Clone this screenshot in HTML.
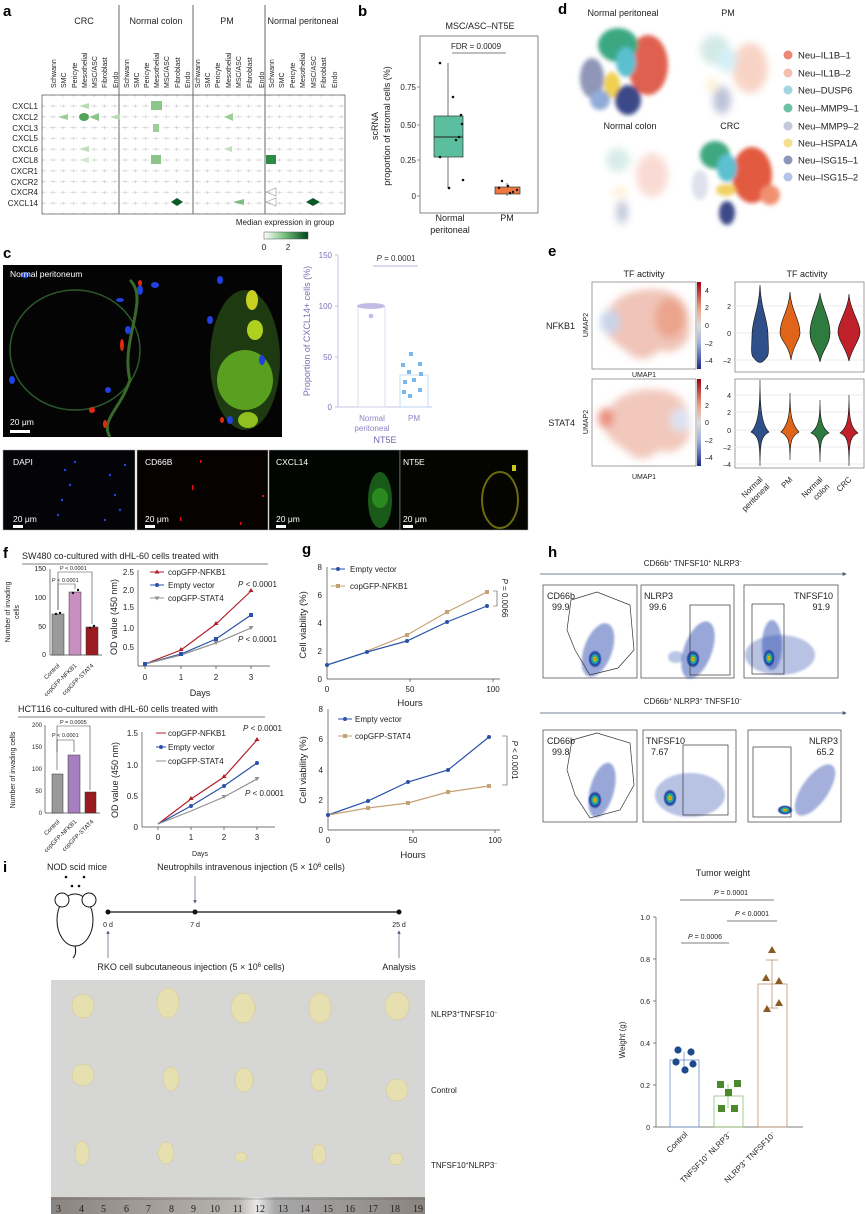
<!DOCTYPE html>
<html><head><meta charset="utf-8"><style>
html,body{margin:0;padding:0;background:#fff}
svg{display:block;font-family:"Liberation Sans",sans-serif}
.lb{font-weight:bold;font-size:15px}
.t{font-size:8px;fill:#222}
.s{font-size:7px;fill:#222}
.m{font-size:9px;fill:#222}
.w{font-size:8.5px;fill:#fff}
</style></head><body>
<svg width="865" height="1214" viewBox="0 0 865 1214" xmlns="http://www.w3.org/2000/svg">
<defs>
<pattern id="vp" x="48" y="101" width="10.3" height="10.8" patternUnits="userSpaceOnUse"><line x1="1.5" y1="5" x2="8.5" y2="5" stroke="#d0d0d0" stroke-width="0.6"/><line x1="5" y1="3.5" x2="5" y2="6.5" stroke="#bbb" stroke-width="0.6"/></pattern>
<filter id="bl"><feGaussianBlur stdDeviation="4"/></filter>
<filter id="bl2"><feGaussianBlur stdDeviation="2"/></filter>
<filter id="bl1"><feGaussianBlur stdDeviation="1"/></filter>
<linearGradient id="gcb" x1="0" x2="1"><stop offset="0" stop-color="#fff"/><stop offset="0.5" stop-color="#6dbb74"/><stop offset="1" stop-color="#00441b"/></linearGradient>
<linearGradient id="rcb" x1="0" y1="1" x2="0" y2="0"><stop offset="0" stop-color="#1a2a8a"/><stop offset="0.3" stop-color="#9fb3dc"/><stop offset="0.5" stop-color="#ddd"/><stop offset="0.7" stop-color="#eea080"/><stop offset="1" stop-color="#a00010"/></linearGradient>
<linearGradient id="rul" x1="0" x2="1"><stop offset="0" stop-color="#8a8480"/><stop offset="0.5" stop-color="#b8b4b0"/><stop offset="0.55" stop-color="#e8e8e8"/><stop offset="0.6" stop-color="#a8a8a8"/><stop offset="1" stop-color="#8a8480"/></linearGradient>
<radialGradient id="flow"><stop offset="0" stop-color="#e00"/><stop offset="0.15" stop-color="#f5d000"/><stop offset="0.3" stop-color="#3cb44a"/><stop offset="0.45" stop-color="#2a9fc0"/><stop offset="0.7" stop-color="#1a3a9a"/><stop offset="1" stop-color="#1a3a9a" stop-opacity="0"/></radialGradient>
<marker id="ar" viewBox="0 0 6 6" refX="5" refY="3" markerWidth="5" markerHeight="5" orient="auto"><path d="M0,0L6,3L0,6z" fill="#4a5a7a"/></marker>
</defs>

<!-- ============ a ============ -->
<text class="lb" x="3" y="16">a</text>
<g class="m" text-anchor="middle"><text x="84" y="24">CRC</text><text x="156" y="24">Normal colon</text><text x="227" y="24">PM</text><text x="303" y="24">Normal peritoneal</text></g>
<g stroke="#444" stroke-width="0.8"><line x1="119" y1="5" x2="119" y2="214"/><line x1="193" y1="5" x2="193" y2="214"/><line x1="265" y1="5" x2="265" y2="214"/></g>
<rect x="42" y="95" width="303" height="119" fill="url(#vp)" stroke="#666" stroke-width="0.8"/>
<g class="s">
<text transform="translate(56,88) rotate(-90)">Schwann</text><text transform="translate(66,88) rotate(-90)">SMC</text><text transform="translate(77,88) rotate(-90)">Pericyte</text><text transform="translate(87,88) rotate(-90)">Mesothelial</text><text transform="translate(97,88) rotate(-90)">MSC/ASC</text><text transform="translate(107,88) rotate(-90)">Fibroblast</text><text transform="translate(118,88) rotate(-90)">Endo</text>
<text transform="translate(129,88) rotate(-90)">Schwann</text><text transform="translate(139,88) rotate(-90)">SMC</text><text transform="translate(149,88) rotate(-90)">Pericyte</text><text transform="translate(159,88) rotate(-90)">Mesothelial</text><text transform="translate(169,88) rotate(-90)">MSC/ASC</text><text transform="translate(180,88) rotate(-90)">Fibroblast</text><text transform="translate(190,88) rotate(-90)">Endo</text>
<text transform="translate(200,88) rotate(-90)">Schwann</text><text transform="translate(210,88) rotate(-90)">SMC</text><text transform="translate(220,88) rotate(-90)">Pericyte</text><text transform="translate(231,88) rotate(-90)">Mesothelial</text><text transform="translate(241,88) rotate(-90)">MSC/ASC</text><text transform="translate(252,88) rotate(-90)">Fibroblast</text><text transform="translate(264,88) rotate(-90)">Endo</text>
<text transform="translate(274,88) rotate(-90)">Schwann</text><text transform="translate(284,88) rotate(-90)">SMC</text><text transform="translate(295,88) rotate(-90)">Pericyte</text><text transform="translate(305,88) rotate(-90)">Mesothelial</text><text transform="translate(316,88) rotate(-90)">MSC/ASC</text><text transform="translate(326,88) rotate(-90)">Fibroblast</text><text transform="translate(337,88) rotate(-90)">Endo</text>
</g>
<g class="t" text-anchor="end"><text x="38" y="109">CXCL1</text><text x="38" y="120">CXCL2</text><text x="38" y="131">CXCL3</text><text x="38" y="141">CXCL5</text><text x="38" y="152">CXCL6</text><text x="38" y="163">CXCL8</text><text x="38" y="174">CXCR1</text><text x="38" y="185">CXCR2</text><text x="38" y="195">CXCR4</text><text x="38" y="206">CXCL14</text></g>
<g>
<path d="M79,106 L89,103 L89,109z" fill="#b9dcb5"/>
<path d="M58,117 L68,114 L68,120z" fill="#9ccf98"/>
<ellipse cx="84" cy="117" rx="5" ry="4" fill="#55a35a"/>
<path d="M89,117 L99,113 L99,121z" fill="#8cc58a"/>
<path d="M110,117 L120,114 L120,120z" fill="#b7dab3"/>
<path d="M79,149 L89,146 L89,152z" fill="#c0e0bb"/>
<path d="M79,160 L89,157 L89,163z" fill="#d2e9cf"/>
<rect x="151" y="101" width="11" height="9" fill="#8cc58a"/>
<rect x="153" y="124" width="6" height="8" fill="#9ccf98"/>
<rect x="151" y="155" width="10" height="9" fill="#8cc58a"/>
<path d="M171,202 L177,198 L183,202 L177,206z" fill="#0b5a2a"/>
<path d="M224,117 L233,113 L233,121z" fill="#9ccf98"/>
<path d="M224,149 L232,146 L232,152z" fill="#bfe0ba"/>
<path d="M233,202 L244,199 L244,205z" fill="#7bbd7c"/>
<rect x="266" y="155" width="10" height="9" fill="#2f8a45"/>
<path d="M306,202 L313,198 L320,202 L313,206z" fill="#0b5a2a"/>
<path d="M266,192 L276,188 L276,196z" fill="none" stroke="#999" stroke-width="0.6"/>
<path d="M266,202 L276,198 L276,206z" fill="none" stroke="#999" stroke-width="0.6"/>
</g>
<text class="t" x="285" y="225" text-anchor="middle">Median expression in group</text>
<rect x="264" y="232" width="44" height="7" fill="url(#gcb)" stroke="#555" stroke-width="0.5"/>
<text class="t" x="264" y="250" text-anchor="middle">0</text><text class="t" x="288" y="250" text-anchor="middle">2</text>

<!-- ============ b ============ -->
<text class="lb" x="358" y="16">b</text>
<text class="m" x="480" y="29" text-anchor="middle">MSC/ASC–NT5E</text>
<rect x="420" y="36" width="118" height="177" fill="none" stroke="#666" stroke-width="0.8"/>
<g class="t" text-anchor="end"><text x="416" y="90">0.75</text><text x="416" y="128">0.50</text><text x="416" y="163">0.25</text><text x="416" y="199">0</text></g>
<g stroke="#666" stroke-width="0.7"><line x1="417" y1="87" x2="420" y2="87"/><line x1="417" y1="125" x2="420" y2="125"/><line x1="417" y1="160" x2="420" y2="160"/><line x1="417" y1="196" x2="420" y2="196"/></g>
<text class="m" transform="translate(378,126) rotate(-90)" text-anchor="middle">scRNA</text>
<text class="m" transform="translate(390,126) rotate(-90)" text-anchor="middle">proportion of stromal cells (%)</text>
<text class="t" x="476" y="49" text-anchor="middle">FDR = 0.0009</text>
<line x1="452" y1="53" x2="506" y2="53" stroke="#555" stroke-width="0.7"/>
<line x1="448" y1="63" x2="448" y2="188" stroke="#333" stroke-width="0.7"/>
<rect x="434" y="116" width="29" height="41" fill="#5bbf9f" stroke="#333" stroke-width="0.7"/>
<line x1="434" y1="137" x2="463" y2="137" stroke="#222" stroke-width="1"/>
<line x1="507" y1="183" x2="507" y2="196" stroke="#333" stroke-width="0.7"/>
<rect x="495" y="187" width="25" height="7" fill="#f07840" stroke="#333" stroke-width="0.7"/>
<g fill="#111"><circle cx="440" cy="63" r="1.3"/><circle cx="453" cy="97" r="1.3"/><circle cx="461" cy="115" r="1.3"/><circle cx="462" cy="124" r="1.3"/><circle cx="459" cy="137" r="1.3"/><circle cx="456" cy="140" r="1.3"/><circle cx="440" cy="157" r="1.3"/><circle cx="449" cy="188" r="1.3"/><circle cx="463" cy="180" r="1.3"/><circle cx="502" cy="181" r="1.2"/><circle cx="508" cy="186" r="1.2"/><circle cx="513" cy="192" r="1.2"/><circle cx="499" cy="188" r="1.2"/><circle cx="517" cy="190" r="1.2"/><circle cx="510" cy="193" r="1.2"/></g>
<text class="m" x="450" y="221" text-anchor="middle">Normal</text><text class="m" x="450" y="233" text-anchor="middle">peritoneal</text><text class="m" x="507" y="221" text-anchor="middle">PM</text>

<!-- ============ d ============ -->
<text class="lb" x="558" y="14">d</text>
<g class="m" text-anchor="middle"><text x="623" y="16">Normal peritoneal</text><text x="728" y="16">PM</text><text x="630" y="129">Normal colon</text><text x="730" y="129">CRC</text></g>
<g filter="url(#bl2)">
<ellipse cx="648" cy="65" rx="20" ry="30" fill="#e06050"/>
<ellipse cx="618" cy="45" rx="20" ry="17" fill="#3aa882"/>
<ellipse cx="626" cy="62" rx="10" ry="15" fill="#5ac0d0"/>
<ellipse cx="592" cy="78" rx="12" ry="20" fill="#8f96b8"/>
<ellipse cx="612" cy="85" rx="8" ry="13" fill="#f0d050"/>
<ellipse cx="628" cy="100" rx="13" ry="15" fill="#3a4a88"/>
<ellipse cx="600" cy="100" rx="10" ry="10" fill="#90acd8"/>
</g>
<g filter="url(#bl)" opacity="0.45">
<ellipse cx="750" cy="68" rx="18" ry="25" fill="#f0a080"/>
<ellipse cx="715" cy="50" rx="15" ry="15" fill="#a0d0c8"/>
<ellipse cx="727" cy="60" rx="10" ry="12" fill="#a0dce8"/>
<ellipse cx="722" cy="100" rx="9" ry="14" fill="#7078a8"/>
<ellipse cx="712" cy="85" rx="6" ry="6" fill="#f8e090"/>
<ellipse cx="652" cy="175" rx="16" ry="22" fill="#f4b0a0"/>
<ellipse cx="618" cy="160" rx="12" ry="12" fill="#a8d8cc"/>
<ellipse cx="622" cy="212" rx="6" ry="12" fill="#8088b0"/>
<ellipse cx="620" cy="192" rx="8" ry="5" fill="#f8e0a0"/>
</g>
<g filter="url(#bl2)">
<ellipse cx="752" cy="175" rx="20" ry="28" fill="#e25a40"/>
<ellipse cx="715" cy="155" rx="15" ry="14" fill="#40a880"/>
<ellipse cx="727" cy="168" rx="10" ry="14" fill="#5cc0d0"/>
<ellipse cx="770" cy="195" rx="10" ry="10" fill="#f09070"/>
<ellipse cx="726" cy="190" rx="10" ry="6" fill="#f0d060"/>
<ellipse cx="727" cy="213" rx="8" ry="12" fill="#3c4a88"/>
<ellipse cx="700" cy="185" rx="8" ry="15" fill="#c8cce0" opacity="0.6"/>
</g>
<g font-size="9.5" fill="#222">
<circle cx="788" cy="55" r="4.5" fill="#e98873"/><text x="798" y="58.5">Neu–IL1B–1</text>
<circle cx="788" cy="73" r="4.5" fill="#f5bfae"/><text x="798" y="76.5">Neu–IL1B–2</text>
<circle cx="788" cy="90" r="4.5" fill="#9fd6e2"/><text x="798" y="93.5">Neu–DUSP6</text>
<circle cx="788" cy="108" r="4.5" fill="#6cc1a4"/><text x="798" y="111.5">Neu–MMP9–1</text>
<circle cx="788" cy="126" r="4.5" fill="#c5c8da"/><text x="798" y="129.5">Neu–MMP9–2</text>
<circle cx="788" cy="143" r="4.5" fill="#f4df8e"/><text x="798" y="146.5">Neu–HSPA1A</text>
<circle cx="788" cy="160" r="4.5" fill="#8d96b8"/><text x="798" y="163.5">Neu–ISG15–1</text>
<circle cx="788" cy="177" r="4.5" fill="#b3c6e5"/><text x="798" y="180.5">Neu–ISG15–2</text>
</g>

<!-- ============ c ============ -->
<text class="lb" x="3" y="258">c</text>
<rect x="3" y="265" width="279" height="172" fill="#040404"/>
<g>
<ellipse cx="75" cy="350" rx="65" ry="60" fill="none" stroke="#2a5a2a" stroke-width="1.5"/>
<path d="M130,280 C150,300 120,340 130,380 C120,410 100,420 110,437" fill="none" stroke="#3a6a2a" stroke-width="3"/>
<ellipse cx="245" cy="360" rx="35" ry="70" fill="#1e3a10"/>
<ellipse cx="245" cy="380" rx="28" ry="30" fill="#5aa020"/>
<ellipse cx="252" cy="300" rx="6" ry="10" fill="#c8d020"/>
<ellipse cx="255" cy="330" rx="8" ry="10" fill="#b0d020"/>
<ellipse cx="248" cy="420" rx="10" ry="8" fill="#90c020"/>
</g>
<g fill="#2040e0"><ellipse cx="120" cy="300" rx="4" ry="2"/><ellipse cx="140" cy="290" rx="3" ry="5"/><ellipse cx="128" cy="330" rx="3" ry="4"/><ellipse cx="210" cy="320" rx="3" ry="4"/><ellipse cx="220" cy="280" rx="3" ry="4"/><ellipse cx="12" cy="380" rx="3" ry="4"/><ellipse cx="230" cy="420" rx="3" ry="4"/><ellipse cx="25" cy="275" rx="4" ry="3"/><ellipse cx="155" cy="285" rx="4" ry="3"/><ellipse cx="262" cy="360" rx="3" ry="5"/><ellipse cx="108" cy="390" rx="3" ry="3"/></g>
<g fill="#e02a10"><ellipse cx="122" cy="345" rx="2" ry="6"/><ellipse cx="140" cy="283" rx="2" ry="3"/><ellipse cx="105" cy="424" rx="2" ry="4"/><ellipse cx="92" cy="410" rx="3" ry="3"/><ellipse cx="222" cy="420" rx="2" ry="3"/></g>
<text class="w" x="10" y="277">Normal peritoneum</text>
<text class="w" x="10" y="425">20 μm</text><rect x="10" y="430" width="20" height="3" fill="#fff"/>
<!-- bar chart c -->
<g stroke="#b8b3de" stroke-width="0.8" fill="none"><line x1="338" y1="255" x2="338" y2="407"/><line x1="338" y1="407" x2="432" y2="407"/>
<line x1="335" y1="255" x2="338" y2="255"/><line x1="335" y1="306" x2="338" y2="306"/><line x1="335" y1="357" x2="338" y2="357"/><line x1="335" y1="407" x2="338" y2="407"/>
<rect x="358" y="307" width="27" height="100" stroke="#d8d4ee"/><rect x="400" y="375" width="28" height="32" stroke="#b8d8f2"/></g>
<g font-size="8" fill="#7b70b8" text-anchor="end"><text x="332" y="258">150</text><text x="332" y="309">100</text><text x="332" y="360">50</text><text x="332" y="410">0</text></g>
<text transform="translate(310,331) rotate(-90)" text-anchor="middle" font-size="9" fill="#7b70b8">Proportion of CXCL14+ cells (%)</text>
<g fill="#c0bce6"><ellipse cx="371" cy="306" rx="14" ry="3"/><circle cx="371" cy="316" r="2.3"/></g>
<g fill="#7ab8ec"><rect x="409" y="352" width="4" height="4"/><rect x="401" y="363" width="4" height="4"/><rect x="418" y="362" width="4" height="4"/><rect x="407" y="370" width="4" height="4"/><rect x="419" y="372" width="4" height="4"/><rect x="403" y="380" width="4" height="4"/><rect x="412" y="378" width="4" height="4"/><rect x="402" y="390" width="4" height="4"/><rect x="418" y="388" width="4" height="4"/><rect x="408" y="394" width="4" height="4"/></g>
<line x1="373" y1="266" x2="418" y2="266" stroke="#b8b3de"/>
<text x="396" y="261" font-size="8" fill="#333" text-anchor="middle"><tspan font-style="italic">P</tspan> = 0.0001</text>
<g font-size="8" fill="#8a84c4" text-anchor="middle"><text x="372" y="421">Normal</text><text x="372" y="431">peritoneal</text><text x="414" y="421">PM</text></g>
<text x="385" y="443" font-size="9" fill="#6e63b0" text-anchor="middle">NT5E</text>
<!-- small images -->
<rect x="3" y="450" width="132" height="80" fill="#030308" stroke="#aaa" stroke-width="0.5"/>
<rect x="137" y="450" width="131" height="80" fill="#060202" stroke="#aaa" stroke-width="0.5"/>
<rect x="269" y="450" width="131" height="80" fill="#020602" stroke="#aaa" stroke-width="0.5"/>
<rect x="400" y="450" width="128" height="80" fill="#050500" stroke="#aaa" stroke-width="0.5"/>
<g fill="#2244ee"><circle cx="65" cy="470" r="1.2"/><circle cx="70" cy="485" r="1.2"/><circle cx="62" cy="500" r="1.2"/><circle cx="110" cy="475" r="1.2"/><circle cx="115" cy="495" r="1.2"/><circle cx="120" cy="510" r="1.2"/><circle cx="105" cy="520" r="1.2"/><circle cx="75" cy="462" r="1.2"/><circle cx="125" cy="465" r="1.2"/><circle cx="58" cy="515" r="1.2"/></g>
<g fill="#e01010"><rect x="192" y="485" width="1.5" height="5"/><rect x="200" y="460" width="1.5" height="3"/><rect x="180" y="517" width="1.5" height="4"/><rect x="240" y="522" width="1.5" height="3"/><rect x="262" y="495" width="2" height="2"/></g>
<ellipse cx="380" cy="500" rx="12" ry="28" fill="#1a5a18"/><ellipse cx="380" cy="498" rx="8" ry="10" fill="#2a8a20"/>
<ellipse cx="500" cy="500" rx="18" ry="28" fill="none" stroke="#6a6a10" stroke-width="2"/><rect x="512" y="465" width="4" height="6" fill="#c8c820"/>
<g class="w"><text x="13" y="465">DAPI</text><text x="145" y="465">CD66B</text><text x="276" y="465">CXCL14</text><text x="403" y="465">NT5E</text>
<text x="13" y="522">20 μm</text><text x="145" y="522">20 μm</text><text x="276" y="522">20 μm</text><text x="403" y="522">20 μm</text></g>
<g fill="#fff"><rect x="13" y="525" width="10" height="3"/><rect x="145" y="525" width="10" height="3"/><rect x="276" y="525" width="10" height="3"/><rect x="403" y="525" width="10" height="3"/></g>

<!-- ============ e ============ -->
<text class="lb" x="548" y="256">e</text>
<text class="m" x="644" y="277" text-anchor="middle">TF activity</text>
<text class="m" x="807" y="277" text-anchor="middle">TF activity</text>
<rect x="592" y="282" width="104" height="87" fill="#fff" stroke="#888" stroke-width="0.8"/>
<rect x="592" y="379" width="104" height="87" fill="#fff" stroke="#888" stroke-width="0.8"/>
<g filter="url(#bl)">
<path d="M605,320 C610,290 650,285 670,292 C690,300 692,320 688,340 C680,350 670,355 660,350 C650,358 640,365 625,350 C610,340 600,330 605,320z" fill="#f0c4b8"/>
<ellipse cx="610" cy="322" rx="10" ry="12" fill="#c8d4ea"/><ellipse cx="670" cy="318" rx="15" ry="20" fill="#eca48c"/>
<path d="M605,420 C610,390 650,385 670,392 C690,400 692,420 688,440 C680,450 670,455 660,450 C650,458 640,465 625,450 C610,440 600,430 605,420z" fill="#f2c8bc"/>
<ellipse cx="606" cy="418" rx="8" ry="10" fill="#ec9080"/><ellipse cx="680" cy="420" rx="10" ry="12" fill="#dde2f0"/>
</g>
<rect x="697" y="282" width="4" height="87" fill="url(#rcb)"/><rect x="697" y="379" width="4" height="87" fill="url(#rcb)"/>
<g class="s"><text x="705" y="293">4</text><text x="705" y="310">2</text><text x="705" y="328">0</text><text x="705" y="346">–2</text><text x="705" y="363">–4</text>
<text x="705" y="390">4</text><text x="705" y="408">2</text><text x="705" y="425">0</text><text x="705" y="443">–2</text><text x="705" y="460">–4</text></g>
<g class="s" text-anchor="middle"><text x="644" y="377">UMAP1</text><text x="644" y="479">UMAP1</text><text transform="translate(588,325) rotate(-90)">UMAP2</text><text transform="translate(588,422) rotate(-90)">UMAP2</text></g>
<text class="m" x="575" y="329" text-anchor="end">NFKB1</text><text class="m" x="575" y="426" text-anchor="end">STAT4</text>
<rect x="735" y="282" width="129" height="90" fill="#fff" stroke="#888" stroke-width="0.8"/>
<rect x="735" y="379" width="129" height="89" fill="#fff" stroke="#888" stroke-width="0.8"/>
<g stroke="#e4e4e4" stroke-width="0.8"><line x1="735" y1="306" x2="864" y2="306"/><line x1="735" y1="333" x2="864" y2="333"/><line x1="735" y1="360" x2="864" y2="360"/><line x1="735" y1="395" x2="864" y2="395"/><line x1="735" y1="412" x2="864" y2="412"/><line x1="735" y1="430" x2="864" y2="430"/><line x1="735" y1="447" x2="864" y2="447"/><line x1="735" y1="464" x2="864" y2="464"/></g>
<g class="s" text-anchor="end"><text x="731" y="309">2</text><text x="731" y="336">0</text><text x="731" y="363">–2</text><text x="731" y="398">4</text><text x="731" y="415">2</text><text x="731" y="433">0</text><text x="731" y="450">–2</text><text x="731" y="467">–4</text></g>
<g stroke="#111" stroke-width="0.6">
<path d="M760,285 C761,310 768,320 768,335 C768,345 770,355 766,358 C762,364 758,364 754,358 C750,355 752,345 752,335 C752,320 759,310 760,285z" fill="#2f4f8a"/>
<path d="M790,292 C791,310 800,320 800,333 C800,340 793,345 791,360 C789,345 780,340 780,333 C780,320 789,310 790,292z" fill="#e0651a"/>
<path d="M820,293 C821,305 830,318 830,333 C830,345 822,350 820,362 C818,350 810,345 810,333 C810,318 819,305 820,293z" fill="#2f7a3e"/>
<path d="M849,294 C850,310 860,322 860,332 C860,340 852,348 849,361 C846,348 838,340 838,332 C838,322 848,310 849,294z" fill="#c0202a"/>
<path d="M760,380 C760,410 762,425 769,432 C762,436 760,440 760,466 C760,440 758,436 751,432 C758,425 760,410 760,380z" fill="#2f4f8a"/>
<path d="M790,393 C790,415 792,425 799,432 C792,436 790,440 790,460 C790,440 788,436 781,432 C788,425 790,415 790,393z" fill="#e0651a"/>
<path d="M820,400 C820,420 822,428 829,433 C822,436 820,440 820,462 C820,440 818,436 811,433 C818,428 820,420 820,400z" fill="#2f7a3e"/>
<path d="M849,395 C849,420 851,428 858,433 C851,436 849,440 849,466 C849,440 847,436 840,433 C847,428 849,420 849,395z" fill="#c0202a"/>
</g>
<g class="t" text-anchor="end">
<text transform="translate(763,480) rotate(-45)">Normal</text><text transform="translate(770,487) rotate(-45)">peritoneal</text>
<text transform="translate(793,480) rotate(-45)">PM</text>
<text transform="translate(823,480) rotate(-45)">Normal</text><text transform="translate(830,487) rotate(-45)">colon</text>
<text transform="translate(852,480) rotate(-45)">CRC</text></g>

<!-- ============ f ============ -->
<text class="lb" x="3" y="558">f</text>
<text class="m" x="22" y="559">SW480 co-cultured with dHL-60 cells treated with</text>
<line x1="22" y1="564" x2="268" y2="564" stroke="#555" stroke-width="0.8"/>
<g stroke="#444" stroke-width="0.7"><line x1="50" y1="569" x2="50" y2="655"/><line x1="50" y1="655" x2="102" y2="655"/></g>
<g class="s" text-anchor="end" font-size="6"><text x="46" y="571">150</text><text x="46" y="600">100</text><text x="46" y="629">50</text><text x="46" y="657">0</text></g>
<text transform="translate(10,612) rotate(-90)" text-anchor="middle" font-size="7" fill="#222">Number of invading</text>
<text transform="translate(19,612) rotate(-90)" text-anchor="middle" font-size="7" fill="#222">cells</text>
<rect x="52" y="614" width="12" height="41" fill="#9a9a9a" stroke="#333" stroke-width="0.5"/>
<rect x="69" y="592" width="12" height="63" fill="#c98fc0" stroke="#333" stroke-width="0.5"/>
<rect x="86" y="627" width="12" height="28" fill="#9b1c20" stroke="#333" stroke-width="0.5"/>
<g fill="#111"><circle cx="56" cy="614" r="1.2"/><circle cx="60" cy="613" r="1.2"/><circle cx="73" cy="593" r="1.2"/><circle cx="78" cy="590" r="1.2"/><circle cx="90" cy="628" r="1.2"/><circle cx="94" cy="626" r="1.2"/></g>
<g stroke="#444" stroke-width="0.6" fill="none"><path d="M58,610 V572 H92 V624"/><path d="M58,610 V584 H75 V589"/></g>
<g font-size="5.5" fill="#222"><text x="60" y="570">P &lt; 0.0001</text><text x="52" y="582">P &lt; 0.0001</text></g>
<g font-size="6" fill="#222" text-anchor="end"><text transform="translate(60,666) rotate(-45)">Control</text><text transform="translate(77,666) rotate(-45)">copGFP-NFKB1</text><text transform="translate(94,666) rotate(-45)">copGFP-STAT4</text></g>
<g stroke="#444" stroke-width="0.7"><line x1="138" y1="570" x2="138" y2="666"/><line x1="138" y1="666" x2="270" y2="666"/>
<line x1="145" y1="666" x2="145" y2="669"/><line x1="181" y1="666" x2="181" y2="669"/><line x1="216" y1="666" x2="216" y2="669"/><line x1="251" y1="666" x2="251" y2="669"/></g>
<g class="t" text-anchor="end"><text x="134" y="575">2.5</text><text x="134" y="593">2.0</text><text x="134" y="610">1.5</text><text x="134" y="631">1.0</text><text x="134" y="650">0.5</text></g>
<g class="t" text-anchor="middle"><text x="145" y="680">0</text><text x="181" y="680">1</text><text x="216" y="680">2</text><text x="251" y="680">3</text><text x="200" y="696" font-size="9">Days</text></g>
<text transform="translate(117,617) rotate(-90)" text-anchor="middle" font-size="9" fill="#222">OD value (450 nm)</text>
<polyline points="145,664 181,650 216,624 251,591" fill="none" stroke="#b0202a" stroke-width="1.2"/>
<polyline points="145,664 181,654 216,639 251,615" fill="none" stroke="#2a52a8" stroke-width="1.2"/>
<polyline points="145,664 181,655 216,643 251,628" fill="none" stroke="#909090" stroke-width="1.2"/>
<g fill="#b0202a"><path d="M181,647 l2.5,4 h-5z"/><path d="M216,621 l2.5,4 h-5z"/><path d="M251,588 l2.5,4 h-5z"/></g>
<g fill="#2a52a8"><rect x="179" y="652" width="4" height="4"/><rect x="214" y="637" width="4" height="4"/><rect x="249" y="613" width="4" height="4"/><rect x="143" y="662" width="4" height="4"/></g>
<g fill="#909090"><path d="M216,645 l2.5,-4 h-5z"/><path d="M251,630 l2.5,-4 h-5z"/></g>
<g font-size="8" fill="#222"><line x1="150" y1="572" x2="164" y2="572" stroke="#b0202a"/><path d="M157,569.5 l2.5,4 h-5z" fill="#b0202a"/><text x="168" y="575">copGFP-NFKB1</text>
<line x1="150" y1="585" x2="164" y2="585" stroke="#2a52a8"/><circle cx="157" cy="585" r="2" fill="#2a52a8"/><text x="168" y="588">Empty vector</text>
<line x1="150" y1="598" x2="164" y2="598" stroke="#909090"/><path d="M157,600.5 l2.5,-4 h-5z" fill="#909090"/><text x="168" y="601">copGFP-STAT4</text>
<text x="238" y="587"><tspan font-style="italic">P</tspan> &lt; 0.0001</text><text x="238" y="642"><tspan font-style="italic">P</tspan> &lt; 0.0001</text></g>

<!-- f bottom -->
<text class="m" x="18" y="712">HCT116 co-cultured with dHL-60 cells treated with</text>
<line x1="18" y1="717" x2="265" y2="717" stroke="#555" stroke-width="0.8"/>
<g stroke="#444" stroke-width="0.7"><line x1="45" y1="725" x2="45" y2="813"/><line x1="45" y1="813" x2="100" y2="813"/></g>
<g font-size="6" fill="#222" text-anchor="end"><text x="42" y="727">200</text><text x="42" y="749">150</text><text x="42" y="771">100</text><text x="42" y="793">50</text><text x="42" y="815">0</text></g>
<text transform="translate(15,770) rotate(-90)" text-anchor="middle" font-size="7" fill="#222">Number of invading cells</text>
<rect x="52" y="774" width="11" height="39" fill="#9a9a9a" stroke="#333" stroke-width="0.5"/>
<rect x="68" y="755" width="12" height="58" fill="#a57fc0" stroke="#333" stroke-width="0.5"/>
<rect x="85" y="792" width="11" height="21" fill="#9b1c20" stroke="#333" stroke-width="0.5"/>
<g stroke="#444" stroke-width="0.6" fill="none"><path d="M57,770 V726 H90 V790"/><path d="M57,752 V740 H74 V752"/></g>
<g font-size="5.5" fill="#222"><text x="60" y="724">P = 0.0005</text><text x="52" y="737">P &lt; 0.0001</text></g>
<g font-size="6" fill="#222" text-anchor="end"><text transform="translate(60,822) rotate(-45)">Control</text><text transform="translate(77,822) rotate(-45)">copGFP-NFKB1</text><text transform="translate(94,822) rotate(-45)">copGFP-STAT4</text></g>
<g stroke="#444" stroke-width="0.7"><line x1="142" y1="732" x2="142" y2="827"/><line x1="142" y1="827" x2="275" y2="827"/>
<line x1="158" y1="827" x2="158" y2="830"/><line x1="191" y1="827" x2="191" y2="830"/><line x1="224" y1="827" x2="224" y2="830"/><line x1="257" y1="827" x2="257" y2="830"/></g>
<g class="t" text-anchor="end"><text x="138" y="736">1.5</text><text x="138" y="768">1.0</text><text x="138" y="799">0.5</text><text x="138" y="830">0</text></g>
<g class="t" text-anchor="middle"><text x="158" y="840">0</text><text x="191" y="840">1</text><text x="224" y="840">2</text><text x="257" y="840">3</text><text x="200" y="856" font-size="7">Days</text></g>
<text transform="translate(118,780) rotate(-90)" text-anchor="middle" font-size="9" fill="#222">OD value (450 nm)</text>
<polyline points="158,824 191,799 224,777 257,740" fill="none" stroke="#b0202a" stroke-width="1.2"/>
<polyline points="158,824 191,806 224,786 257,763" fill="none" stroke="#2a52a8" stroke-width="1.2"/>
<polyline points="158,824 191,811 224,797 257,779" fill="none" stroke="#909090" stroke-width="1.2"/>
<g fill="#b0202a"><path d="M191,796 l2.5,4 h-5z"/><path d="M224,774 l2.5,4 h-5z"/><path d="M257,737 l2.5,4 h-5z"/></g>
<g fill="#2a52a8"><circle cx="191" cy="806" r="2"/><circle cx="224" cy="786" r="2"/><circle cx="257" cy="763" r="2"/></g>
<g fill="#909090"><path d="M224,799 l2.5,-4 h-5z"/><path d="M257,781 l2.5,-4 h-5z"/></g>
<g font-size="8" fill="#222"><line x1="156" y1="733" x2="166" y2="733" stroke="#b0202a"/><text x="168" y="736">copGFP-NFKB1</text>
<line x1="156" y1="747" x2="166" y2="747" stroke="#2a52a8"/><circle cx="161" cy="747" r="2" fill="#2a52a8"/><text x="168" y="750">Empty vector</text>
<line x1="156" y1="761" x2="166" y2="761" stroke="#909090"/><text x="168" y="764">copGFP-STAT4</text>
<text x="243" y="731"><tspan font-style="italic">P</tspan> &lt; 0.0001</text><text x="245" y="796"><tspan font-style="italic">P</tspan> &lt; 0.0001</text></g>

<!-- ============ g ============ -->
<text class="lb" x="302" y="554">g</text>
<g stroke="#444" stroke-width="0.7"><line x1="327" y1="567" x2="327" y2="679"/><line x1="327" y1="679" x2="500" y2="679"/><line x1="410" y1="679" x2="410" y2="682"/><line x1="493" y1="679" x2="493" y2="682"/></g>
<g class="t" text-anchor="end"><text x="322" y="570">8</text><text x="322" y="598">6</text><text x="322" y="626">4</text><text x="322" y="654">2</text><text x="322" y="682">0</text></g>
<g class="t" text-anchor="middle"><text x="327" y="692">0</text><text x="410" y="692">50</text><text x="493" y="692">100</text><text x="410" y="706" font-size="9.5">Hours</text></g>
<text transform="translate(306,625) rotate(-90)" text-anchor="middle" font-size="9.5" fill="#222">Cell viability (%)</text>
<polyline points="327,665 367,652 407,641 447,622 487,606" fill="none" stroke="#2a52a8" stroke-width="1.2"/>
<polyline points="367,651 407,635 447,612 487,592" fill="none" stroke="#c4a274" stroke-width="1.2"/>
<g fill="#c4a274"><rect x="405" y="633" width="4" height="4"/><rect x="445" y="610" width="4" height="4"/><rect x="485" y="590" width="4" height="4"/></g>
<g fill="#2a52a8"><circle cx="327" cy="665" r="2"/><circle cx="367" cy="652" r="2"/><circle cx="407" cy="641" r="2"/><circle cx="447" cy="622" r="2"/><circle cx="487" cy="606" r="2"/></g>
<g font-size="8" fill="#222"><line x1="331" y1="569" x2="345" y2="569" stroke="#2a52a8"/><circle cx="338" cy="569" r="2" fill="#2a52a8"/><text x="350" y="572">Empty vector</text>
<line x1="331" y1="586" x2="345" y2="586" stroke="#c4a274"/><rect x="336" y="584" width="4" height="4" fill="#c4a274"/><text x="350" y="589">copGFP-NFKB1</text></g>
<path d="M493,591 H497 V606 H493" fill="none" stroke="#444" stroke-width="0.6"/>
<text transform="translate(502,598) rotate(90)" text-anchor="middle" font-size="8" fill="#222"><tspan font-style="italic">P</tspan> = 0.0066</text>

<g stroke="#444" stroke-width="0.7"><line x1="328" y1="709" x2="328" y2="830"/><line x1="328" y1="830" x2="500" y2="830"/><line x1="413" y1="830" x2="413" y2="833"/><line x1="495" y1="830" x2="495" y2="833"/></g>
<g class="t" text-anchor="end"><text x="323" y="712">8</text><text x="323" y="742">6</text><text x="323" y="773">4</text><text x="323" y="803">2</text><text x="323" y="833">0</text></g>
<g class="t" text-anchor="middle"><text x="328" y="843">0</text><text x="413" y="843">50</text><text x="495" y="843">100</text><text x="413" y="858" font-size="9.5">Hours</text></g>
<text transform="translate(306,770) rotate(-90)" text-anchor="middle" font-size="9.5" fill="#222">Cell viability (%)</text>
<polyline points="328,815 368,801 408,782 448,770 489,737" fill="none" stroke="#2a52a8" stroke-width="1.2"/>
<polyline points="328,815 368,808 408,803 448,792 489,786" fill="none" stroke="#c4a274" stroke-width="1.2"/>
<g fill="#2a52a8"><circle cx="328" cy="815" r="2"/><circle cx="368" cy="801" r="2"/><circle cx="408" cy="782" r="2"/><circle cx="448" cy="770" r="2"/><circle cx="489" cy="737" r="2"/></g>
<g fill="#c4a274"><rect x="366" y="806" width="4" height="4"/><rect x="406" y="801" width="4" height="4"/><rect x="446" y="790" width="4" height="4"/><rect x="487" y="784" width="4" height="4"/></g>
<g font-size="8" fill="#222"><line x1="338" y1="719" x2="352" y2="719" stroke="#2a52a8"/><circle cx="345" cy="719" r="2" fill="#2a52a8"/><text x="355" y="722">Empty vector</text>
<line x1="338" y1="736" x2="352" y2="736" stroke="#c4a274"/><rect x="343" y="734" width="4" height="4" fill="#c4a274"/><text x="355" y="739">copGFP-STAT4</text></g>
<path d="M502,736 H507 V785 H502" fill="none" stroke="#444" stroke-width="0.6"/>
<text transform="translate(512,760) rotate(90)" text-anchor="middle" font-size="8" fill="#222"><tspan font-style="italic">P</tspan> &lt; 0.0001</text>

<!-- ============ h ============ -->
<text class="lb" x="548" y="557">h</text>
<text class="t" x="693" y="566" text-anchor="middle">CD66b<tspan font-size="5" dy="-3">+</tspan><tspan dy="3"> TNFSF10</tspan><tspan font-size="5" dy="-3">+</tspan><tspan dy="3"> NLRP3</tspan><tspan font-size="5" dy="-3">−</tspan></text>
<line x1="540" y1="574" x2="846" y2="574" stroke="#4a5a7a" stroke-width="0.8" marker-end="url(#ar)"/>
<g fill="#fff" stroke="#555" stroke-width="0.8"><rect x="543" y="585" width="94" height="93"/><rect x="641" y="585" width="93" height="93"/><rect x="744" y="585" width="94" height="93"/>
<rect x="543" y="730" width="94" height="92"/><rect x="643" y="730" width="93" height="92"/><rect x="748" y="730" width="93" height="92"/></g>
<g filter="url(#bl1)">
<ellipse cx="598" cy="650" rx="14" ry="28" fill="#3050b0" opacity="0.5" transform="rotate(20 598 650)"/>
<ellipse cx="698" cy="650" rx="14" ry="30" fill="#3050b0" opacity="0.5" transform="rotate(20 698 650)"/>
<ellipse cx="676" cy="657" rx="8" ry="6" fill="#5070c0" opacity="0.4"/>
<ellipse cx="780" cy="655" rx="35" ry="20" fill="#3050b0" opacity="0.35"/>
<ellipse cx="772" cy="645" rx="10" ry="25" fill="#3050b0" opacity="0.5"/>
<ellipse cx="602" cy="790" rx="12" ry="28" fill="#3050b0" opacity="0.5" transform="rotate(15 602 790)"/>
<ellipse cx="690" cy="795" rx="35" ry="22" fill="#3050b0" opacity="0.35"/>
<ellipse cx="815" cy="790" rx="13" ry="30" fill="#3050b0" opacity="0.45" transform="rotate(35 815 790)"/>
</g>
<g><ellipse cx="595" cy="659" rx="7" ry="9" fill="url(#flow)"/><ellipse cx="693" cy="659" rx="7" ry="9" fill="url(#flow)"/><ellipse cx="769" cy="658" rx="6" ry="9" fill="url(#flow)"/>
<ellipse cx="595" cy="800" rx="7" ry="9" fill="url(#flow)"/><ellipse cx="670" cy="798" rx="7" ry="9" fill="url(#flow)"/><ellipse cx="785" cy="810" rx="8" ry="5" fill="url(#flow)"/></g>
<g fill="none" stroke="#333" stroke-width="0.7">
<path d="M571,600 L597,592 L630,605 L634,650 L618,668 L590,675 L575,650 L567,630z"/>
<rect x="690" y="605" width="40" height="70"/><rect x="752" y="604" width="32" height="70"/>
<path d="M572,740 L597,733 L630,743 L634,785 L620,810 L590,818 L575,795 L567,770z"/>
<rect x="683" y="745" width="45" height="70"/><rect x="753" y="747" width="38" height="70"/></g>
<g font-size="9" fill="#222"><text x="547" y="599">CD66b</text><text x="552" y="610">99.9</text><text x="644" y="599">NLRP3</text><text x="649" y="610">99.6</text><text x="833" y="599" text-anchor="end">TNFSF10</text><text x="830" y="610" text-anchor="end">91.9</text>
<text x="547" y="744">CD66b</text><text x="552" y="755">99.8</text><text x="646" y="744">TNFSF10</text><text x="651" y="755">7.67</text><text x="838" y="744" text-anchor="end">NLRP3</text><text x="834" y="755" text-anchor="end">65.2</text></g>
<text class="t" x="693" y="704" text-anchor="middle">CD66b<tspan font-size="5" dy="-3">+</tspan><tspan dy="3"> NLRP3</tspan><tspan font-size="5" dy="-3">+</tspan><tspan dy="3"> TNFSF10</tspan><tspan font-size="5" dy="-3">−</tspan></text>
<line x1="540" y1="713" x2="846" y2="713" stroke="#4a5a7a" stroke-width="0.8" marker-end="url(#ar)"/>

<!-- ============ i ============ -->
<text class="lb" x="3" y="872">i</text>
<text class="m" x="77" y="870" text-anchor="middle">NOD scid mice</text>
<text class="m" x="251" y="870" text-anchor="middle">Neutrophils intravenous injection (5 × 10<tspan font-size="6" dy="-3">6</tspan><tspan dy="3"> cells)</tspan></text>
<g fill="none" stroke="#111" stroke-width="1"><ellipse cx="75" cy="920" rx="18" ry="26"/><circle cx="62" cy="900" r="7" fill="#fff"/><circle cx="89" cy="900" r="7" fill="#fff"/><path d="M75,946 q2,8 -2,12"/></g>
<g fill="#111"><circle cx="72" cy="886" r="1.3"/><circle cx="79" cy="886" r="1.3"/><circle cx="66" cy="877" r="1.3"/><circle cx="84" cy="877" r="1.3"/></g>
<line x1="108" y1="912" x2="399" y2="912" stroke="#111" stroke-width="1.2"/>
<g fill="#111"><circle cx="108" cy="912" r="2.5"/><circle cx="195" cy="912" r="2.5"/><circle cx="399" cy="912" r="2.5"/></g>
<g font-size="7" fill="#222" text-anchor="middle"><text x="108" y="927">0 d</text><text x="195" y="927">7 d</text><text x="399" y="927">25 d</text></g>
<line x1="195" y1="876" x2="195" y2="903" stroke="#4a5a7a" stroke-width="0.7" marker-end="url(#ar)"/>
<line x1="108" y1="958" x2="108" y2="931" stroke="#4a5a7a" stroke-width="0.7" marker-end="url(#ar)"/>
<line x1="399" y1="958" x2="399" y2="931" stroke="#4a5a7a" stroke-width="0.7" marker-end="url(#ar)"/>
<text class="m" x="191" y="970" text-anchor="middle">RKO cell subcutaneous injection (5 × 10<tspan font-size="6" dy="-3">6</tspan><tspan dy="3"> cells)</tspan></text>
<text class="m" x="399" y="970" text-anchor="middle">Analysis</text>
<rect x="51" y="980" width="374" height="217" fill="#d6d6d4"/>
<rect x="51" y="1197" width="374" height="17" fill="url(#rul)"/>
<g stroke="#555" stroke-width="0.4"><line x1="51" y1="1199" x2="425" y2="1199"/></g>
<g font-family="Liberation Serif" font-size="10" fill="#222"><text x="56" y="1212">3</text><text x="79" y="1212">4</text><text x="101" y="1212">5</text><text x="124" y="1212">6</text><text x="146" y="1212">7</text><text x="169" y="1212">8</text><text x="191" y="1212">9</text><text x="210" y="1212">10</text><text x="233" y="1212">11</text><text x="255" y="1212">12</text><text x="278" y="1212">13</text><text x="300" y="1212">14</text><text x="323" y="1212">15</text><text x="345" y="1212">16</text><text x="368" y="1212">17</text><text x="390" y="1212">18</text><text x="413" y="1212">19</text></g>
<g fill="#e6dfb0" stroke="#cfc590" stroke-width="0.5">
<ellipse cx="83" cy="1006" rx="11" ry="12"/><ellipse cx="168" cy="1003" rx="11" ry="15"/><ellipse cx="243" cy="1008" rx="12" ry="15"/><ellipse cx="320" cy="1008" rx="11" ry="15"/><ellipse cx="397" cy="1006" rx="12" ry="14"/>
<ellipse cx="83" cy="1075" rx="11" ry="11"/><ellipse cx="171" cy="1079" rx="8" ry="12"/><ellipse cx="244" cy="1080" rx="9" ry="12"/><ellipse cx="319" cy="1080" rx="8" ry="11"/><ellipse cx="397" cy="1090" rx="11" ry="11"/>
<ellipse cx="82" cy="1153" rx="7" ry="12"/><ellipse cx="166" cy="1153" rx="8" ry="11"/><ellipse cx="241" cy="1157" rx="6" ry="5"/><ellipse cx="319" cy="1154" rx="7" ry="10"/><ellipse cx="396" cy="1159" rx="7" ry="6"/></g>
<g class="t"><text x="431" y="1017">NLRP3<tspan font-size="5" dy="-3">+</tspan><tspan dy="3">TNFSF10</tspan><tspan font-size="5" dy="-3">−</tspan></text><text x="431" y="1093">Control</text><text x="431" y="1168">TNFSF10<tspan font-size="5" dy="-3">+</tspan><tspan dy="3">NLRP3</tspan><tspan font-size="5" dy="-3">−</tspan></text></g>

<!-- tumor weight -->
<text class="m" x="723" y="876" text-anchor="middle">Tumor weight</text>
<g stroke="#555" stroke-width="0.7"><line x1="656" y1="917" x2="656" y2="1127"/><line x1="656" y1="1127" x2="803" y2="1127"/>
<line x1="653" y1="917" x2="656" y2="917"/><line x1="653" y1="959" x2="656" y2="959"/><line x1="653" y1="1001" x2="656" y2="1001"/><line x1="653" y1="1043" x2="656" y2="1043"/><line x1="653" y1="1085" x2="656" y2="1085"/><line x1="653" y1="1127" x2="656" y2="1127"/>
<line x1="680" y1="900" x2="774" y2="900"/><line x1="727" y1="921" x2="777" y2="921"/><line x1="681" y1="943" x2="729" y2="943"/></g>
<g class="s" text-anchor="end"><text x="650" y="920">1.0</text><text x="650" y="962">0.8</text><text x="650" y="1004">0.6</text><text x="650" y="1046">0.4</text><text x="650" y="1088">0.2</text><text x="650" y="1130">0</text></g>
<text transform="translate(625,1040) rotate(-90)" text-anchor="middle" font-size="8" fill="#222">Weight (g)</text>
<g font-size="7" fill="#222" text-anchor="middle"><text x="731" y="895"><tspan font-style="italic">P</tspan> = 0.0001</text><text x="752" y="916"><tspan font-style="italic">P</tspan> &lt; 0.0001</text><text x="705" y="939"><tspan font-style="italic">P</tspan> = 0.0006</text></g>
<g fill="none" stroke-width="0.8"><rect x="670" y="1060" width="29" height="67" stroke="#7090c8"/><rect x="714" y="1096" width="29" height="31" stroke="#8cc070"/><rect x="758" y="984" width="29" height="143" stroke="#c09070"/>
<line x1="684" y1="1052" x2="684" y2="1068" stroke="#7090c8"/><line x1="728" y1="1084" x2="728" y2="1108" stroke="#8cc070"/><line x1="772" y1="960" x2="772" y2="1008" stroke="#c09070"/><line x1="766" y1="960" x2="778" y2="960" stroke="#c09070"/><line x1="766" y1="1008" x2="778" y2="1008" stroke="#c09070"/></g>
<g fill="#1f4a8a"><circle cx="678" cy="1050" r="3.6"/><circle cx="691" cy="1052" r="3.6"/><circle cx="676" cy="1062" r="3.6"/><circle cx="693" cy="1064" r="3.6"/><circle cx="685" cy="1070" r="3.6"/></g>
<g fill="#4a8a2a"><rect x="717" y="1081" width="7" height="7"/><rect x="734" y="1080" width="7" height="7"/><rect x="725" y="1089" width="7" height="7"/><rect x="718" y="1105" width="7" height="7"/><rect x="731" y="1105" width="7" height="7"/></g>
<g fill="#8a5a20"><path d="M772,946 l4,7 h-8z"/><path d="M766,974 l4,7 h-8z"/><path d="M779,977 l4,7 h-8z"/><path d="M767,1005 l4,7 h-8z"/><path d="M779,999 l4,7 h-8z"/></g>
<g class="t" text-anchor="end"><text transform="translate(688,1135) rotate(-45)">Control</text><text transform="translate(732,1135) rotate(-45)">TNFSF10<tspan font-size="5" dy="-3">+</tspan><tspan dy="3"> NLRP3</tspan><tspan font-size="5" dy="-3">−</tspan></text><text transform="translate(776,1135) rotate(-45)">NLRP3<tspan font-size="5" dy="-3">+</tspan><tspan dy="3"> TNFSF10</tspan><tspan font-size="5" dy="-3">−</tspan></text></g>
</svg>
</body></html>
